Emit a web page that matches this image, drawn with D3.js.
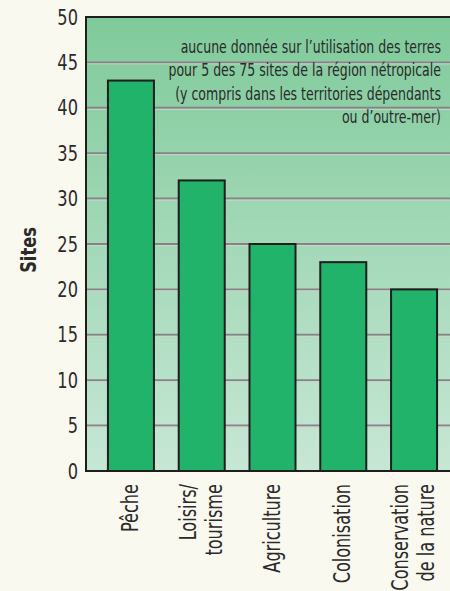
<!DOCTYPE html>
<html>
<head>
<meta charset="utf-8">
<script src="https://cdn.jsdelivr.net/npm/d3@7"></script>
<style>
  html, body { margin: 0; padding: 0; background: #f9f9f0; }
  svg { display: block; }
  text { font-family: "DejaVu Sans Condensed", "DejaVu Sans", sans-serif; fill: #2a2a2a; }
</style>
</head>
<body>
<svg id="chart" width="450" height="591"></svg>
<script>
// données
const categories = ["Pêche", "Loisirs/\ntourisme", "Agriculture", "Colonisation", "Conservation\nde la nature"]
const sites = [43, 32, 25, 23, 20]
const yTicks = [0, 5, 10, 15, 20, 25, 30, 35, 40, 45, 50]
const note = [
    "aucune donnée sur l’utilisation des terres",
    "pour 5 des 75 sites de la région nétropicale",
    "(y compris dans les territories dépendants",
    "ou d’outre-mer)"
]

const svg = d3.select('#chart')

const plotLeft = 86, plotTop = 17, plotBottom = 471, plotRight = 459
const squeeze = 0.78 // la police d'origine est très étroite

const x = d3.scaleBand()
    .domain(categories)
    .range([plotLeft, plotRight])
    .paddingInner(0.35)
    .paddingOuter(0.31)

const y = d3.scaleLinear()
    .domain([0, 50])
    .range([plotBottom, plotTop])

// fond en dégradé
const grad = svg.append('defs').append('linearGradient')
    .attr('id', 'bg')
    .attr('x1', 0).attr('y1', 0).attr('x2', 0).attr('y2', 1)
grad.append('stop').attr('offset', '0%').attr('stop-color', '#7fca9a')
grad.append('stop').attr('offset', '100%').attr('stop-color', '#c7e7d5')

svg.append('rect')
    .attr('x', plotLeft).attr('y', plotTop)
    .attr('width', plotRight - plotLeft).attr('height', plotBottom - plotTop)
    .attr('fill', 'url(#bg)')

// lignes de grille (double trait gris)
const gridVals = yTicks.filter(d => d > 0 && d < 50)
const grid = svg.append('g')
grid.selectAll('line.dark')
    .data(gridVals)
    .join('line')
    .attr('class', 'dark')
    .attr('x1', plotLeft).attr('x2', plotRight)
    .attr('y1', d => y(d)).attr('y2', d => y(d))
    .attr('stroke', '#858585')
    .attr('stroke-width', 2)
grid.selectAll('line.light')
    .data(gridVals)
    .join('line')
    .attr('class', 'light')
    .attr('x1', plotLeft).attr('x2', plotRight)
    .attr('y1', d => y(d) + 1.5).attr('y2', d => y(d) + 1.5)
    .attr('stroke', '#d2d2d2')
    .attr('stroke-width', 1)

// barres
svg.append('g')
    .selectAll('rect')
    .data(categories)
    .join('rect')
    .attr('x', d => x(d))
    .attr('y', (d, i) => y(sites[i]))
    .attr('width', x.bandwidth())
    .attr('height', (d, i) => plotBottom - y(sites[i]))
    .attr('fill', '#21b36a')
    .attr('stroke', '#1e1e1e')
    .attr('stroke-width', 2)

// cadre
svg.append('path')
    .attr('d', `M${plotRight},${plotTop}H${plotLeft}V${plotBottom}H${plotRight}`)
    .attr('fill', 'none')
    .attr('stroke', '#1e1e1e')
    .attr('stroke-width', 2)

// axe y
const yAxis = svg.append('g')
    .attr('transform', `translate(${plotLeft - 8},0)`)
    .call(d3.axisLeft(y).tickValues(yTicks).tickSize(0).tickPadding(0))
yAxis.select('.domain').remove()
yAxis.selectAll('text')
    .attr('font-family', '"DejaVu Sans Condensed", "DejaVu Sans", sans-serif')
    .attr('font-size', 22)
    .attr('fill', '#2a2a2a')
    .attr('transform', 'scale(0.82,1)')

svg.append('text')
    .attr('transform', `translate(36,250) rotate(-90) scale(0.82,1)`)
    .attr('text-anchor', 'middle')
    .attr('font-size', 22)
    .attr('font-weight', 'bold')
    .text('Sites')

// étiquettes des catégories
svg.append('g')
    .selectAll('g')
    .data(categories)
    .join('g')
    .attr('transform', d => `translate(${x(d) + x.bandwidth() / 2},484) rotate(-90)`)
    .each(function (d) {
        const lines = d.split('\n')
        d3.select(this).selectAll('text')
            .data(lines)
            .join('text')
            .attr('text-anchor', 'end')
            .attr('font-size', 23)
            .attr('transform', (l, i) => `translate(0,${(i - (lines.length - 1) / 2) * 26 + 7}) scale(${squeeze},1)`)
            .text(l => l)
    })

// note
svg.append('g')
    .selectAll('text')
    .data(note)
    .join('text')
    .attr('transform', (d, i) => `translate(441,${53 + i * 23.3}) scale(0.82,1)`)
    .attr('text-anchor', 'end')
    .attr('font-size', 17)
    .text(d => d)
</script>
</body>
</html>
